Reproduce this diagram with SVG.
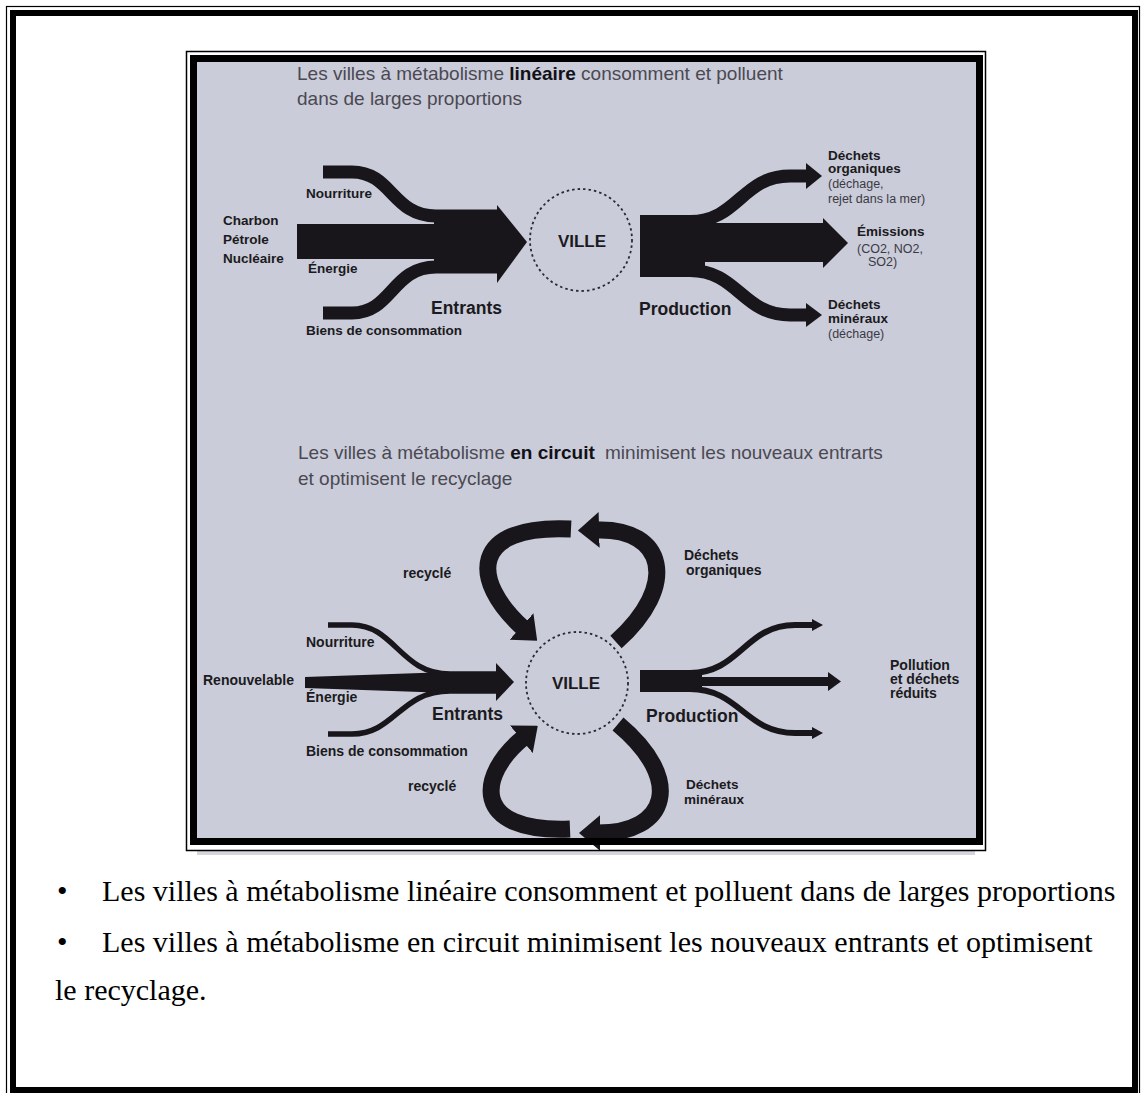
<svg xmlns="http://www.w3.org/2000/svg" width="1142" height="1093" viewBox="0 0 1142 1093">
<style>
.lbl{font-family:"Liberation Sans",Arial,sans-serif;font-weight:bold;font-size:13.5px;fill:#1b1a20}
.l14{font-size:14px}
.big{font-size:17.5px}
.par{font-weight:normal;font-size:12.5px;fill:#3b3a44}
.hdr{font-family:"Liberation Sans",Arial,sans-serif;font-size:19px;fill:#4a4952}
.hb{font-weight:bold;fill:#121117}
.cap{font-family:"Liberation Serif","Times New Roman",serif;font-size:30px;fill:#000}
.ink{fill:#18151b}
.band{fill:none;stroke:#18151b}
.arc{fill:none;stroke:#18151b;stroke-width:17;marker-end:url(#cHead)}
.city{fill:none;stroke:#2b2931;stroke-width:1.8;stroke-dasharray:2.5 3}
</style>
<defs>
<marker id="cHead" viewBox="0 0 10 10" refX="1" refY="5" markerWidth="1.25" markerHeight="2.1" orient="auto" preserveAspectRatio="none" markerUnits="strokeWidth">
<path d="M0,0 L10,5 L0,10 Z" fill="#18151b"/>
</marker>
</defs>
<rect width="1142" height="1093" fill="#fff"/>
<g id="page-frame">
<rect x="6.5" y="6.5" width="1133" height="1095" fill="none" stroke="#000" stroke-width="1.2"/>
<rect x="13" y="13" width="1122" height="1077" fill="none" stroke="#000" stroke-width="6"/>
</g>
<g id="photo">
<rect x="197" y="62" width="779" height="776" fill="#caccd9"/>
<rect x="197" y="851" width="778" height="4" fill="#d5d6dc"/>
</g>
<g id="headers">
<text class="hdr" x="297" y="80">Les villes à métabolisme <tspan class="hb">linéaire</tspan> consomment et polluent</text>
<text class="hdr" x="297" y="105">dans de larges proportions</text>
<text class="hdr" x="298" y="459">Les villes à métabolisme <tspan class="hb">en circuit</tspan><tspan dx="5"> minimisent les nouveaux entrarts</tspan></text>
<text class="hdr" x="298" y="485">et optimisent le recyclage</text>
</g>
<g id="connectors">
<g id="inputs-linear">
<rect class="ink" x="297" y="224" width="205" height="35"/>
<path class="band" stroke-width="13" d="M323,172 H352 C392,172 392,216 436,216 H500"/>
<path class="band" stroke-width="13" d="M323,313 H352 C392,313 392,267 436,267 H500"/>
<rect class="ink" x="434" y="210" width="66" height="63"/>
<polygon class="ink" points="497,205 527,242 497,283"/>
</g>
<g id="outputs-linear">
<rect class="ink" x="640" y="215" width="65" height="62"/>
<rect class="ink" x="700" y="223" width="125" height="39"/>
<polygon class="ink" points="823,218 848,243 823,268"/>
<path class="band" stroke-width="13" d="M690,221.5 C738,221.5 742,176 790,176 H810"/>
<polygon class="ink" points="806,163 822,176 806,189"/>
<path class="band" stroke-width="13" d="M690,270.5 C738,270.5 742,315 790,315 H810"/>
<polygon class="ink" points="806,303 822,315 806,327"/>
</g>
<g id="inputs-circuit">
<polygon class="ink" points="305,677 450,672 450,693 305,688"/>
<path class="band" stroke-width="5.5" d="M328,625 H352 C395,625 400,674 450,674 H498"/>
<path class="band" stroke-width="5.5" d="M328,734 H352 C395,734 400,691 450,691 H498"/>
<rect class="ink" x="448" y="672" width="50" height="21"/>
<polygon class="ink" points="496,663 514,682 496,701"/>
</g>
<g id="outputs-circuit">
<rect class="ink" x="640" y="670" width="62" height="22"/>
<rect class="ink" x="700" y="677" width="130" height="9"/>
<polygon class="ink" points="828,672 841,681.5 828,691"/>
<path class="band" stroke-width="6" d="M690,673 C740,673 745,625 795,625 H815"/>
<polygon class="ink" points="812,619 823,625 812,631"/>
<path class="band" stroke-width="6" d="M690,689 C740,689 745,733 795,733 H815"/>
<polygon class="ink" points="812,727 823,733 812,739"/>
</g>
<g id="recycle-arcs">
<path class="arc" d="M571,529 C470,524 470,580 523,628"/>
<path class="arc" d="M616,642 C680,585 665,528 597,530"/>
<path class="arc" d="M570,829 C470,833 478,775 523,738"/>
<path class="arc" d="M618,724 C685,780 668,833 598,833"/>
</g>
</g>
<g id="node-ville-linear">
<circle class="city" cx="581" cy="240" r="51"/>
<text class="lbl" x="582" y="247" text-anchor="middle" style="font-size:17px">VILLE</text>
</g>
<g id="node-sources-linear">
<text class="lbl" x="223" y="225">Charbon</text>
<text class="lbl" x="223" y="244">Pétrole</text>
<text class="lbl" x="223" y="263">Nucléaire</text>
<text class="lbl" x="306" y="198">Nourriture</text>
<text class="lbl" x="308" y="273">Énergie</text>
<text class="lbl big" x="431" y="314">Entrants</text>
<text class="lbl" x="306" y="335">Biens de consommation</text>
</g>
<g id="node-outputs-linear">
<text class="lbl big" x="639" y="315">Production</text>
<text class="lbl" x="828" y="160">Déchets</text>
<text class="lbl" x="828" y="173">organiques</text>
<text class="lbl par" x="828" y="188">(déchage,</text>
<text class="lbl par" x="828" y="203">rejet dans  la mer)</text>
<text class="lbl" x="857" y="236">Émissions</text>
<text class="lbl par" x="857" y="253">(CO2,  NO2,</text>
<text class="lbl par" x="868" y="266">SO2)</text>
<text class="lbl" x="828" y="309">Déchets</text>
<text class="lbl" x="828" y="323">minéraux</text>
<text class="lbl par" x="828" y="338">(déchage)</text>
</g>
<g id="node-ville-circuit">
<circle class="city" cx="577" cy="683" r="51"/>
<text class="lbl" x="576" y="689" text-anchor="middle" style="font-size:17px">VILLE</text>
</g>
<g id="node-sources-circuit">
<text class="lbl l14" x="403" y="578">recyclé</text>
<text class="lbl l14" x="306" y="647">Nourriture</text>
<text class="lbl l14" x="203" y="685">Renouvelable</text>
<text class="lbl l14" x="306" y="702">Énergie</text>
<text class="lbl big" x="432" y="720">Entrants</text>
<text class="lbl l14" x="306" y="756">Biens de consommation</text>
<text class="lbl l14" x="408" y="791">recyclé</text>
</g>
<g id="node-outputs-circuit">
<text class="lbl big" x="646" y="722">Production</text>
<text class="lbl l14" x="684" y="560">Déchets</text>
<text class="lbl l14" x="686" y="575">organiques</text>
<text class="lbl l14" x="890" y="670">Pollution</text>
<text class="lbl l14" x="890" y="684">et déchets</text>
<text class="lbl l14" x="890" y="698">réduits</text>
<text class="lbl" x="686" y="789">Déchets</text>
<text class="lbl" x="684" y="804">minéraux</text>
</g>
<g id="photo-frame">
<rect x="186.5" y="51.5" width="799" height="799" fill="none" stroke="#000" stroke-width="1.5"/>
<rect x="193.5" y="58.5" width="786" height="783" fill="none" stroke="#000" stroke-width="7"/>
</g>
<g id="caption">
<text class="cap" x="57" y="901">•</text>
<text class="cap" x="102" y="901">Les villes à métabolisme linéaire consomment et polluent dans de larges proportions</text>
<text class="cap" x="57" y="952">•</text>
<text class="cap" x="102" y="952">Les villes à métabolisme en circuit minimisent les nouveaux entrants et optimisent</text>
<text class="cap" x="55" y="1000">le recyclage.</text>
</g>
</svg>
